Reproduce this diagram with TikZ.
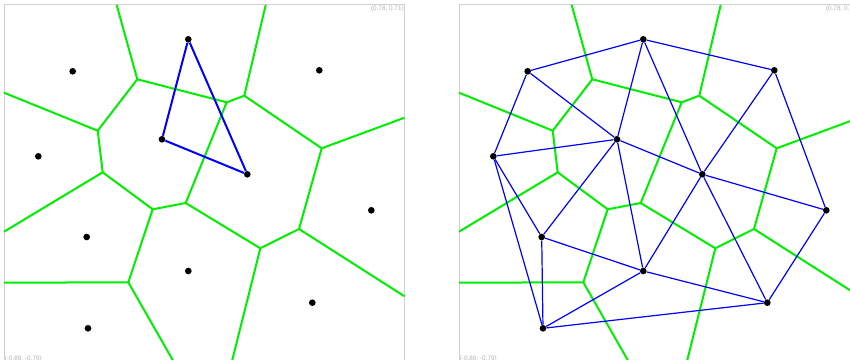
\documentclass[tikz,border=0pt]{standalone}
\usepackage{fontspec}
\setmainfont{Liberation Sans}
\usepackage{tikz}

\definecolor{cellgreen}{RGB}{0,238,0}
\definecolor{edgeblue}{RGB}{0,0,255}

% one panel: frame, corner labels, cells and sites
\newcommand{\voronoicells}{%
\draw[frame] (4,364) rectangle (404.5,5);
\node[corner,anchor=north east] (topright) at (404,6) {(0.78, 0.71)};
\node[corner,anchor=north west] (botleft) at (4.5,355.5) {(-0.89, -0.79)};
% cell vertices
\coordinate (v1) at (137.3,79.3);
\coordinate (v2) at (226.7,102.3);
\coordinate (v3) at (244.3,95.7);
\coordinate (v4) at (321.7,148.3);
\coordinate (v5) at (299,229);
\coordinate (v6) at (97.7,130.7);
\coordinate (v7) at (102.7,172.3);
\coordinate (v8) at (152.7,209.3);
\coordinate (v9) at (185.7,203);
\coordinate (v10) at (260.3,248.3);
\coordinate (v11) at (128.3,282.3);
% where the cells leave the frame
\coordinate (t1) at (116.7,5);
\coordinate (t2) at (265.7,5);
\coordinate (r1) at (404.5,117.7);
\coordinate (r2) at (404.5,296.3);
\coordinate (l1) at (4,92.7);
\coordinate (l2) at (4,231.7);
\coordinate (l3) at (4,282.7);
\coordinate (s1) at (231.3,364);
\coordinate (s2) at (175,364);
\draw[cell] (t1) -- (v1) -- (v2) -- (v3) -- (t2);
\draw[cell] (v3) -- (v4) -- (r1);
\draw[cell] (v4) -- (v5) -- (r2);
\draw[cell] (v5) -- (v10) -- (s1);
\draw[cell] (v10) -- (v9) -- (v2);
\draw[cell] (v9) -- (v8) -- (v7) -- (v6) -- (v1);
\draw[cell] (v6) -- (l1);
\draw[cell] (v7) -- (l2);
\draw[cell] (v8) -- (v11) -- (l3);
\draw[cell] (v11) -- (s2);
% sites
\node[site] (a) at (188.3,39.3) {};
\node[site] (b) at (72.7,71.3) {};
\node[site] (c) at (319.3,70.3) {};
\node[site] (d) at (162,139.3) {};
\node[site] (e) at (247.3,174.3) {};
\node[site] (f) at (38.3,156.3) {};
\node[site] (g) at (371.3,210.3) {};
\node[site] (h) at (86.7,237) {};
\node[site] (i) at (188.3,271) {};
\node[site] (j) at (312.3,302.7) {};
\node[site] (k) at (88,328.3) {};
}

\begin{document}
\begin{tikzpicture}[x=0.75pt,y=-0.75pt,
  frame/.style={draw=black!18,line width=0.75pt},
  corner/.style={text=black!30,inner sep=0pt,font=\fontsize{4.8}{5}\selectfont},
  cell/.style={cellgreen,line width=1.5pt,line join=round},
  site/.style={circle,fill=black,inner sep=0pt,minimum size=5pt},
  tri/.style={edgeblue,line width=1.5pt},
  mesh/.style={edgeblue,line width=0.9pt}]
\clip (0,0) rectangle (850,360);

% left: one triangle
\begin{scope}[name prefix=L-]
\voronoicells
\draw[tri] (a) -- (d) -- (e) -- (a);
\end{scope}

% right: the whole triangulation
\begin{scope}[shift={(455,0)},name prefix=R-]
\voronoicells
\draw[mesh] (b) -- (a) -- (c) -- (g) -- (j) -- (k) -- (f) -- (b);
\draw[mesh] (a) -- (d) -- (b);
\draw[mesh] (a) -- (e) -- (c);
\draw[mesh] (f) -- (d) -- (e) -- (g);
\draw[mesh] (e) -- (j);
\draw[mesh] (e) -- (i) -- (d) -- (h) -- (f);
\draw[mesh] (h) -- (k) -- (i) -- (j);
\draw[mesh] (h) -- (i);
\end{scope}
\end{tikzpicture}
\end{document}
